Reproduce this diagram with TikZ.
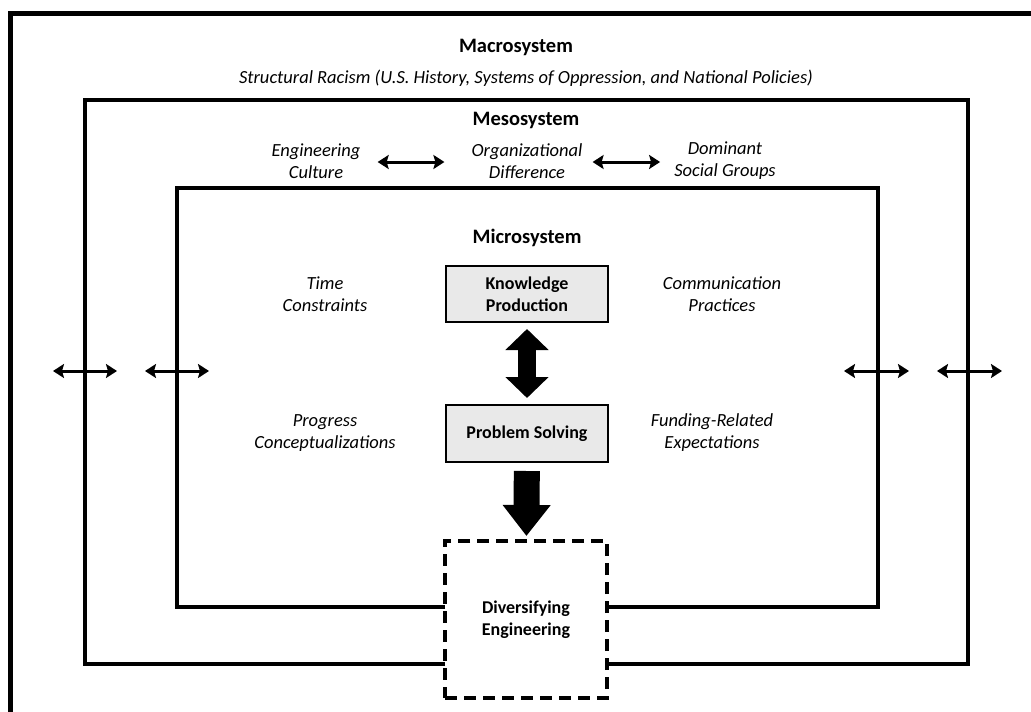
\documentclass[tikz,border=0pt]{standalone}
\usepackage{fontspec}
\setmainfont{Carlito}
\usetikzlibrary{arrows.meta}
\begin{document}
\begin{tikzpicture}[x=1pt,y=-1pt,
  frame/.style={line width=4.5pt, line join=miter},
  title/.style={font=\fontsize{20.5}{24}\selectfont\bfseries, inner sep=0pt},
  lab/.style={font=\fontsize{18.5}{22}\selectfont\itshape, align=center, inner sep=0pt},
  core/.style={draw, line width=2pt, fill=gray!17, minimum width=162pt, font=\fontsize{18}{22}\selectfont\bfseries, align=center, inner sep=0pt},
  sidearrow/.style={line width=3pt, {Stealth[length=11pt,width=14pt,inset=2pt]}-{Stealth[length=11pt,width=14pt,inset=2pt]}},
  dashbox/.style={draw, line width=4pt, dash pattern=on 12pt off 7pt, minimum width=162pt, minimum height=157pt, font=\fontsize{18}{22}\selectfont\bfseries, align=center, inner sep=0pt}
]
\useasboundingbox (0,0) rectangle (1031,712);
\fill[white] (0,0) rectangle (1031,712);
% outer frame
\draw[frame] (10.5,730) -- (10.5,13.5) -- (1050,13.5);
% macro rectangle
\draw[frame] (445,664) -- (85,664) -- (85,100) -- (968,100) -- (968,664) -- (607,664);
% meso rectangle
\draw[frame, line width=4pt] (445,607) -- (177,607) -- (177,188) -- (878,188) -- (878,607) -- (607,607);

\node[title] (macro) at (516,47) {Macrosystem};
\node[lab] (racism) at (526,78) {Structural Racism (U.S. History, Systems of Oppression, and National Policies)};
\node[title] (meso) at (526,120) {Mesosystem};
\node[lab] (ec) at (316,161) {Engineering\\Culture};
\node[lab] (od) at (527,161) {Organizational\\Difference};
\node[lab] (dsg) at (725,161) {Dominant\\Social Groups};
\draw[sidearrow] ([xshift=17pt]ec.east |- 0,162) -- ([xshift=-27pt]od.west |- 0,162);
\draw[sidearrow] ([xshift=10pt]od.east |- 0,162) -- ([xshift=-14pt]dsg.west |- 0,162);

\node[title] (micro) at (527,238) {Microsystem};
\node[lab] (tc) at (325,294) {Time\\Constraints};
\node[lab] (pc) at (325,433) {Progress\\Conceptualizations};
\node[lab] (cp) at (722,294) {Communication\\Practices};
\node[lab] (fr) at (712,433) {Funding-Related\\Expectations};

\node[core, minimum height=56pt] (kp) at (527,294) {Knowledge\\Production};
\node[core, minimum height=57pt] (ps) at (527,433.5) {Problem Solving};
\node[dashbox] (div) at (526,619.5) {Diversifying\\Engineering};

\draw[line width=18pt, {Triangle[length=21pt,width=42pt]}-{Triangle[length=21pt,width=42pt]}, shorten <=6pt, shorten >=6pt] (kp) -- (ps);
\draw[line width=26pt, -{Triangle[length=31pt,width=46pt]}, shorten <=8pt, shorten >=3pt] (ps) -- (div);

% side arrows
\coordinate (a1) at (53,371); \coordinate (b1) at (117,371);
\coordinate (a2) at (145,371); \coordinate (b2) at (209,371);
\coordinate (a3) at (844,371); \coordinate (b3) at (909,371);
\coordinate (a4) at (937,371); \coordinate (b4) at (1002,371);
\draw[sidearrow] (a1) -- (b1);
\draw[sidearrow] (a2) -- (b2);
\draw[sidearrow] (a3) -- (b3);
\draw[sidearrow] (a4) -- (b4);
\end{tikzpicture}
\end{document}
